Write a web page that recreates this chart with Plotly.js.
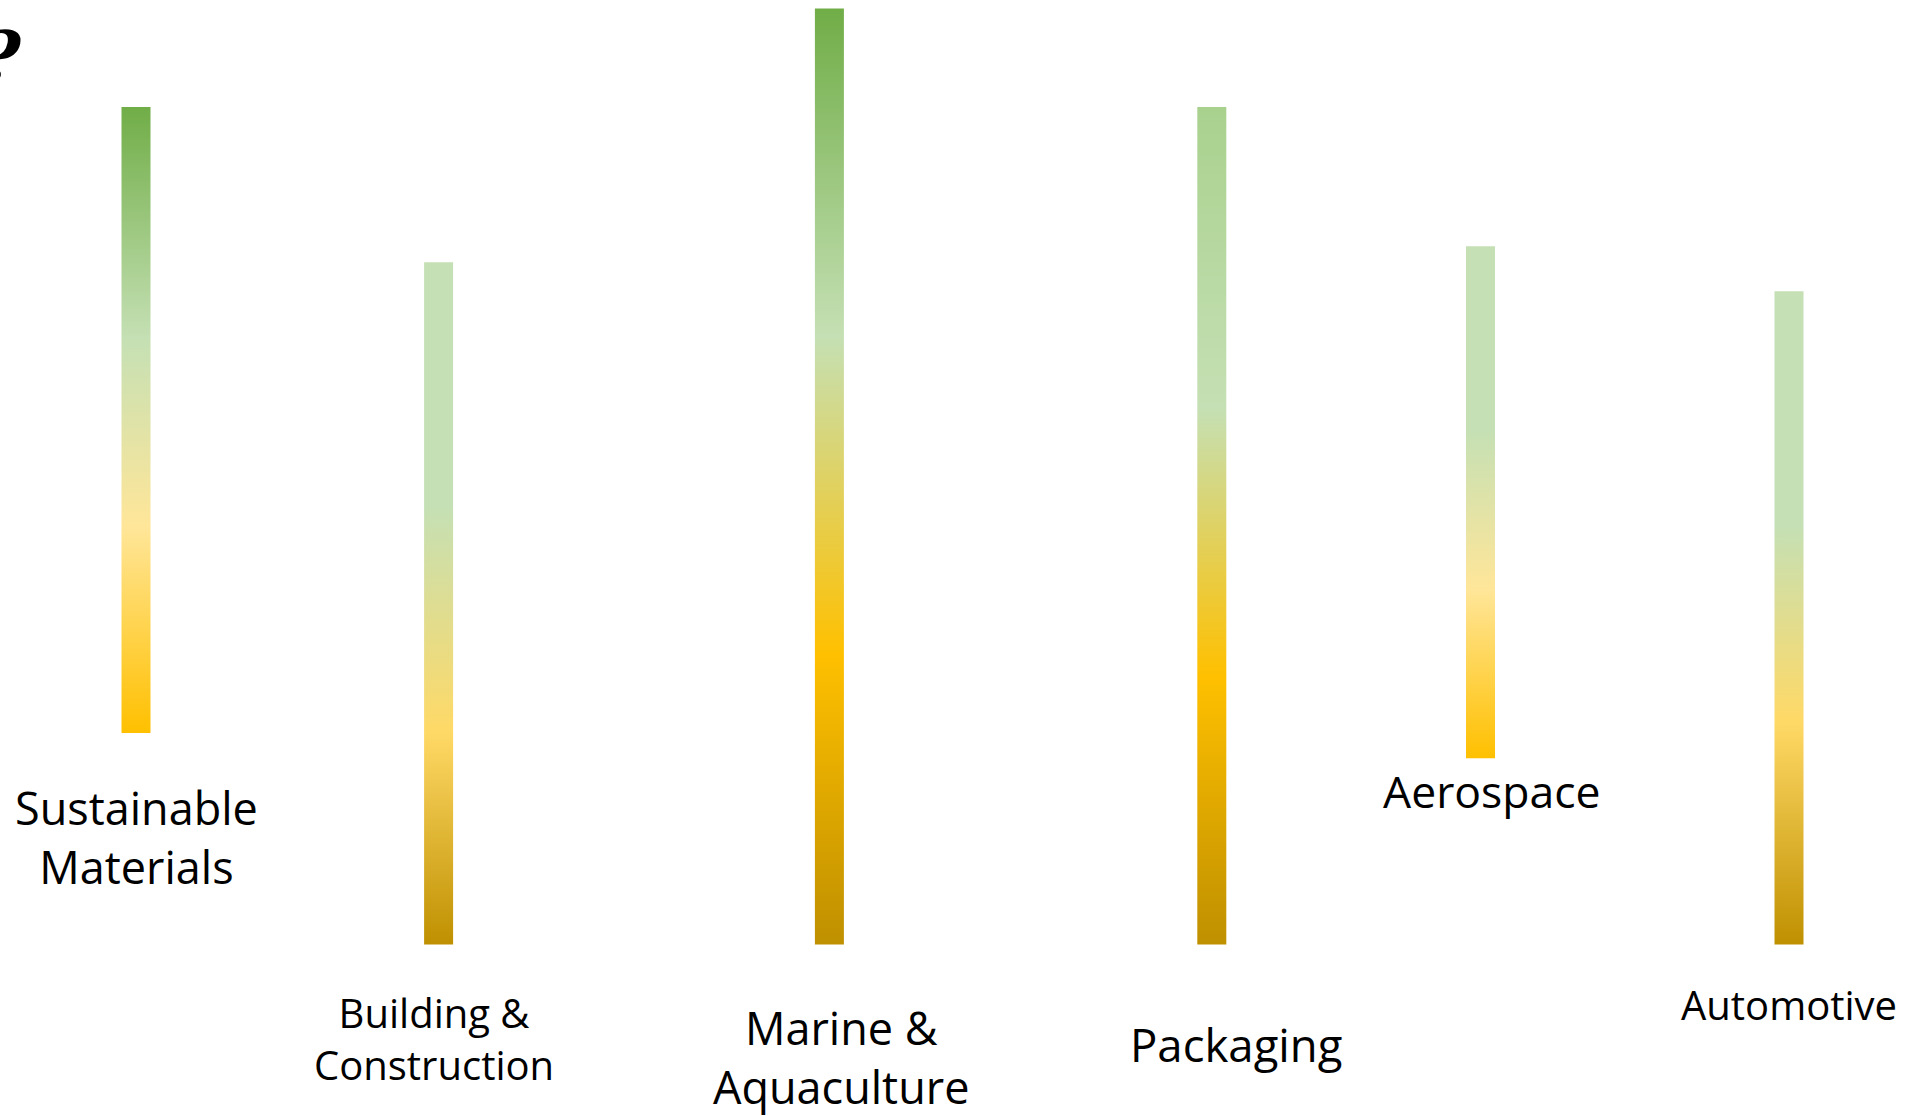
<!DOCTYPE html>
<html>
<head>
<meta charset="utf-8">
<script src="https://cdn.plot.ly/plotly-3.0.1.min.js"></script>
<style>
  html, body { margin: 0; padding: 0; background: #ffffff; }
  #chart { width: 1921px; height: 1116px; }
</style>
</head>
<body>
<div id="chart"></div>
<script>
// ---------------- DATA ----------------
const categories = ["Sustainable Materials", "Building & Construction", "Marine & Aquaculture", "Packaging", "Aerospace", "Automotive"];
const labelText  = ["Sustainable<br>Materials", "Building &<br>Construction", "Marine &<br>Aquaculture", "Packaging", "Aerospace", "Automotive"];
const lowValues  = [22.6, 0, 0, 0, 19.9, 0];
const highValues = [89.5, 72.9, 100, 89.5, 74.6, 69.8];

// ---------------- STYLE / LAYOUT ----------------
const W = 1921, H = 1116;
const slotX   = [136, 438.6, 829.4, 1211.8, 1480.5, 1789];   // horizontal slot of each bar (px on x axis)
const barWidth = 29;
const yRange  = [-18.31, 100.92];
// gradient stops from top (0) to bottom (1)
const gradients = [
  [[0, "#70AD47"], [0.37, "#C5E0B4"], [0.67, "#FFE699"], [1, "#FFC000"]],
  [[0, "#C5E0B4"], [0.36, "#C5E0B4"], [0.69, "#FFD966"], [1, "#BF9000"]],
  [[0, "#70AD47"], [0.35, "#C5E0B4"], [0.69, "#FFC000"], [1, "#BF9000"]],
  [[0, "#A9D18E"], [0.36, "#C5E0B4"], [0.68, "#FFC000"], [1, "#BF9000"]],
  [[0, "#C5E0B4"], [0.36, "#C5E0B4"], [0.67, "#FFE699"], [1, "#FFC000"]],
  [[0, "#C5E0B4"], [0.36, "#C5E0B4"], [0.66, "#FFD966"], [1, "#BF9000"]]
];
// label placement (centre, in px) and size
const labelPos  = [[136, 837.3], [433.7, 1038.8], [840.5, 1056.5], [1235.5, 1043.8], [1492.2, 790.2], [1789.3, 1004.6]];
const labelSize = [45, 40, 45, 45.5, 44.5, 40];
const FONT = "Open Sans, Noto Sans, sans-serif";

// ---------------- TRACES ----------------
const traces = categories.map((cat, i) => {
  const x0 = slotX[i] - barWidth / 2, x1 = slotX[i] + barWidth / 2;
  const lo = lowValues[i], hi = highValues[i];
  const cs = gradients[i].map(([t, c]) => [1 - t, c]).reverse();
  return {
    type: "scatter",
    name: cat,
    x: [x0, x1, x1, x0, x0],
    y: [lo, lo, hi, hi, lo],
    mode: "lines",
    line: { width: 0 },
    fill: "toself",
    fillgradient: { type: "vertical", colorscale: cs },
    hoverinfo: "skip",
    showlegend: false
  };
});

const annotations = labelText.map((t, i) => ({
  text: t,
  xref: "paper", yref: "paper",
  x: labelPos[i][0] / W, y: 1 - labelPos[i][1] / H,
  xanchor: "center", yanchor: "middle",
  showarrow: false,
  align: "center",
  font: { family: FONT, size: labelSize[i], color: "#000000" }
}));

// the clipped end of the heading at the top-left corner
annotations.push({
  text: "<b><i>?</i></b>",
  xref: "paper", yref: "paper",
  x: 0, y: 1 - 56 / H,
  xanchor: "right", yanchor: "middle",
  xshift: 24,
  showarrow: false,
  font: { family: "DejaVu Serif, serif", size: 70, color: "#000000" }
});

const layout = {
  width: W, height: H,
  margin: { l: 0, r: 0, t: 0, b: 0, pad: 0 },
  paper_bgcolor: "#ffffff",
  plot_bgcolor: "#ffffff",
  showlegend: false,
  xaxis: { range: [0, W], visible: false, fixedrange: true },
  yaxis: { range: yRange, visible: false, fixedrange: true },
  annotations: annotations
};

Plotly.newPlot("chart", traces, layout, { displayModeBar: false, staticPlot: true });
</script>
</body>
</html>
